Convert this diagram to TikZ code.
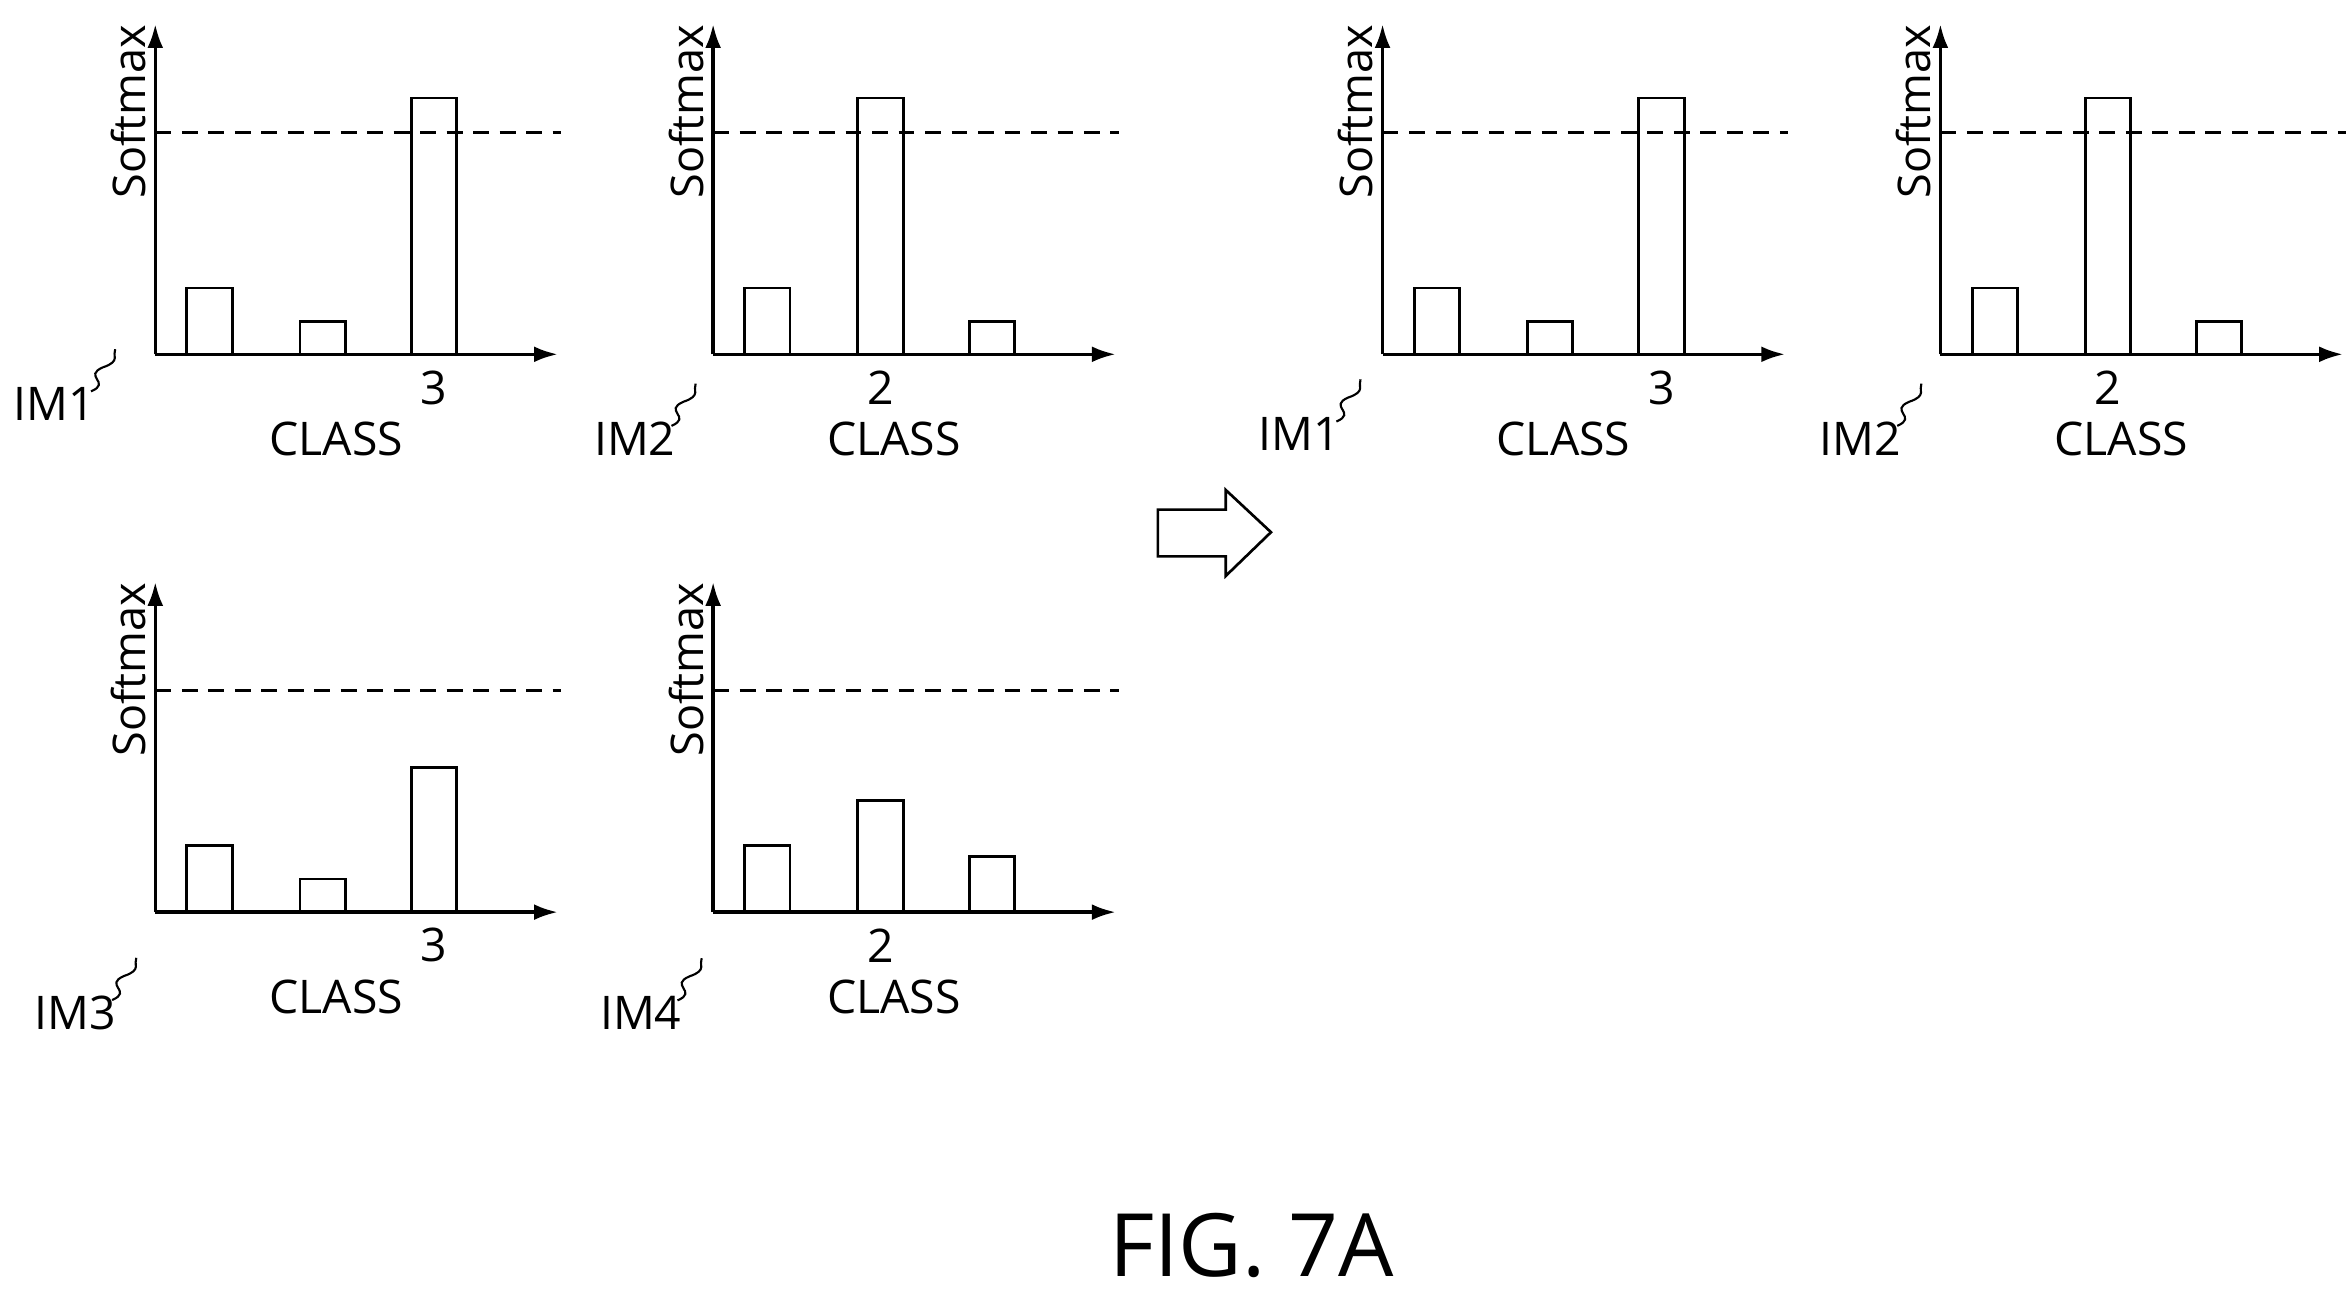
\documentclass[tikz,border=0pt]{standalone}
\usepackage{fontspec}
\setmainfont{Open Sans}
\usetikzlibrary{arrows.meta}

% one softmax chart: #1 x shift, #2 y shift, #3-#5 bar tops, #6 class label, #7 label x
\newcommand{\smchart}[7]{%
  \begin{scope}[shift={(#1,#2)}]
    \draw[axis] (103,235) -- (103,16);
    \draw[axis] (103,235) -- (370,235);
    \draw[thr] (103,88) -- (372,88);
    \draw[bar] (124,235) rectangle (154,#3);
    \draw[bar] (199,235) rectangle (229,#4);
    \draw[bar] (273,235) rectangle (303,#5);
    \node[lbl, font=\fontsize{17}{19}\selectfont, rotate=90] at (85,74) {Softmax};
    \node[lbl] at (#7,257) {#6};
    \node[lbl] at (223,291) {CLASS};
  \end{scope}}

\begin{document}
\begin{tikzpicture}[
    x=0.02cm, y=-0.02cm,
    axis/.style={line width=1.3pt, -{Latex[length=9pt,width=6pt]}},
    thr/.style={line width=1.1pt, dash pattern=on 6pt off 4pt},
    bar/.style={line width=1.1pt},
    lbl/.style={font=\fontsize{17.5}{20}\selectfont},
    sq/.style={line width=0.8pt}
]
    \useasboundingbox (0,0) rectangle (1560,857.6);

    % left column, top and bottom
    \smchart{0}{0}{191}{213}{65}{3}{288}
    \smchart{370}{0}{191}{65}{213}{2}{214}
    \smchart{0}{370}{191}{213}{139}{3}{288}
    \smchart{370}{370}{191}{161}{198}{2}{214}

    % right column
    \smchart{814}{0}{191}{213}{65}{3}{288}
    \smchart{1184}{0}{191}{65}{213}{2}{214}

    % image labels
    \node[lbl] (im1) at (36,268) {IM1};
    \node[lbl] (im2) at (421,291) {IM2};
    \node[lbl] (im3) at (50,672) {IM3};
    \node[lbl] (im4) at (425,672) {IM4};
    \node[lbl] (im1r) at (862,288) {IM1};
    \node[lbl] (im2r) at (1234,291) {IM2};

    % reference squiggles
    \foreach \n in {im1,im2,im3,im4,im1r,im2r}
        \draw[sq] ([xshift=-5pt,yshift=-5pt]\n.north east)
            .. controls +(14,-6) and +(-14,6) .. ++(8,-16)
            .. controls +(12,-4) and +(-2,4) .. ++(8,-12);

    % block arrow
    \draw[line width=1pt] (768,338) -- (813,338) -- (813,325) -- (843,353)
        -- (813,382) -- (813,369) -- (768,369) -- cycle;

    \node[font=\fontsize{33}{36}\selectfont] (fig) at (830,826) {FIG. 7A};
\end{tikzpicture}
\end{document}
